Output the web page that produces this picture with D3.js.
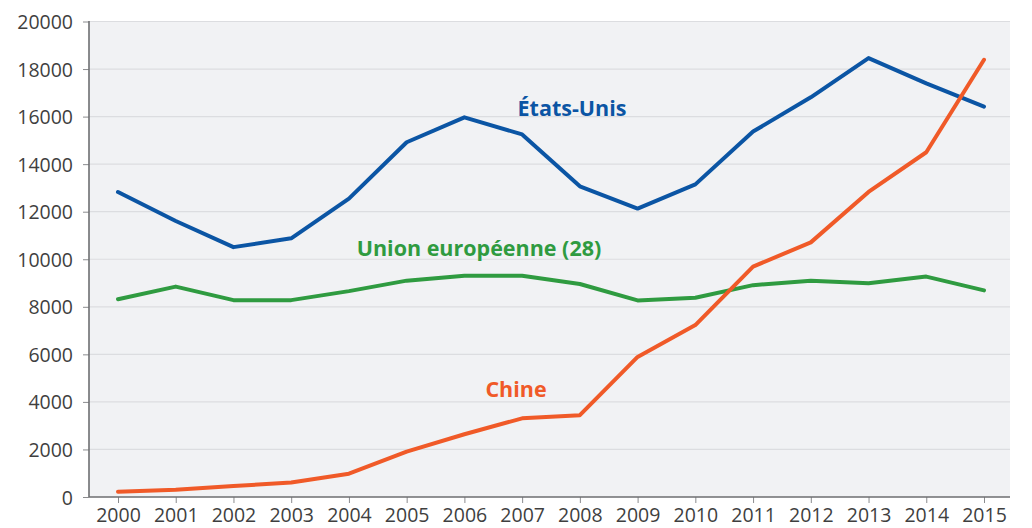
<!DOCTYPE html>
<html>
<head>
<meta charset="utf-8">
<script src="https://cdn.jsdelivr.net/npm/d3@7"></script>
<style>
  html, body { margin: 0; padding: 0; background: #fff; }
  svg { display: block; }
  .tick text { font-family: 'Open Sans', sans-serif; font-size: 19.5px; fill: #3f3f3f; }
  .lbl { font-family: 'Open Sans', sans-serif; font-weight: 700; font-size: 21.5px; }
</style>
</head>
<body>
<svg id="chart" width="1032" height="528"></svg>
<script>
// Years and series
var years = [2000, 2001, 2002, 2003, 2004, 2005, 2006, 2007, 2008, 2009, 2010, 2011, 2012, 2013, 2014, 2015];
var etatsUnis = [12830, 11610, 10510, 10880, 12550, 14920, 15970, 15250, 13070, 12130, 13150, 15370, 16810, 18460, 17400, 16420];
var unionEuropeenne = [8320, 8850, 8280, 8280, 8660, 9100, 9310, 9310, 8960, 8270, 8380, 8910, 9100, 8990, 9270, 8690];
var chine = [220, 300, 460, 610, 980, 1910, 2640, 3310, 3440, 5890, 7230, 9690, 10710, 12830, 14500, 18390];
var yTicks = [0, 2000, 4000, 6000, 8000, 10000, 12000, 14000, 16000, 18000, 20000];

var series = [
    { name: 'États-Unis', values: etatsUnis, color: '#0b55a4', lx: 572, ly: 116 },
    { name: 'Union européenne (28)', values: unionEuropeenne, color: '#2f9b40', lx: 479, ly: 256 },
    { name: 'Chine', values: chine, color: '#f05a28', lx: 516, ly: 397 }
];

(function () {
    var svg = d3.select('#chart');
    var plot = { left: 89, right: 1010, top: 21, bottom: 497 };

    var x = d3.scaleLinear().domain([2000, 2015]).range([118, 984]);
    var y = d3.scaleLinear().domain([0, 20000]).range([plot.bottom, plot.top + 0.5]);

    // plot background
    svg.append('rect')
        .attr('x', plot.left).attr('y', plot.top)
        .attr('width', plot.right - plot.left).attr('height', plot.bottom - plot.top)
        .attr('fill', '#f1f2f4');

    // gridlines
    svg.append('g').selectAll('line')
        .data(yTicks.filter(function (d) { return d > 0; }))
        .join('line')
        .attr('x1', plot.left).attr('x2', plot.right)
        .attr('y1', function (d) { return y(d); }).attr('y2', function (d) { return y(d); })
        .attr('stroke', '#dcdde0').attr('stroke-width', 1.2);

    // y axis
    var ay = svg.append('g')
        .attr('transform', 'translate(' + plot.left + ',0)')
        .call(d3.axisLeft(y).tickValues(yTicks).tickFormat(d3.format('d'))
            .tickSize(6).tickPadding(10));
    ay.select('.domain').remove();
    ay.selectAll('.tick line').attr('stroke', '#8a8b8e');
    ay.selectAll('.tick text').attr('dy', '0.36em');
    svg.append('line')
        .attr('x1', plot.left).attr('x2', plot.left)
        .attr('y1', plot.top).attr('y2', plot.bottom)
        .attr('stroke', '#6d6e71').attr('stroke-width', 1.6);

    // x axis
    var ax = svg.append('g')
        .attr('transform', 'translate(0,' + plot.bottom + ')')
        .call(d3.axisBottom(x).tickValues(years).tickFormat(d3.format('d'))
            .tickSize(6).tickPadding(5));
    ax.select('.domain').remove();
    ax.selectAll('.tick line').attr('stroke', '#8a8b8e');
    svg.append('line')
        .attr('x1', plot.left).attr('x2', plot.right)
        .attr('y1', plot.bottom).attr('y2', plot.bottom)
        .attr('stroke', '#6d6e71').attr('stroke-width', 1.6);

    // lines
    var line = d3.line()
        .x(function (d, i) { return x(years[i]); })
        .y(function (d) { return y(d); });

    series.forEach(function (s) {
        svg.append('path')
            .datum(s.values)
            .attr('fill', 'none')
            .attr('stroke', s.color)
            .attr('stroke-width', 4)
            .attr('stroke-linejoin', 'round')
            .attr('stroke-linecap', 'round')
            .attr('d', line);
    });

    // series labels
    series.forEach(function (s) {
        svg.append('text')
            .attr('class', 'lbl')
            .attr('x', s.lx).attr('y', s.ly)
            .attr('text-anchor', 'middle')
            .attr('fill', s.color)
            .text(s.name);
    });
})();
</script>
</body>
</html>
